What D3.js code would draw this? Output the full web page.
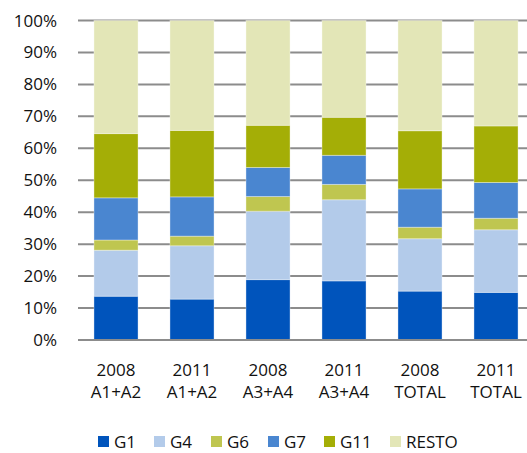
<!DOCTYPE html>
<html><head><meta charset="utf-8">
<script src="https://cdn.jsdelivr.net/npm/d3@7"></script>
<style>body{margin:0;background:#fff}svg{display:block}text{font-family:"Open Sans","Liberation Sans",sans-serif;fill:#111}</style>
</head><body>
<svg id="c" width="527" height="453"></svg>
<script>
const categories = [["2008","A1+A2"],["2011","A1+A2"],["2008","A3+A4"],["2011","A3+A4"],["2008","TOTAL"],["2011","TOTAL"]];
const seriesNames = ["G1","G4","G6","G7","G11","RESTO"];
const G1 = [13.7,12.8,18.9,18.5,15.3,14.9];
const G4 = [14.4,16.7,21.4,25.4,16.4,19.6];
const G6 = [3.2,3.0,4.6,4.8,3.6,3.6];
const G7 = [13.2,12.3,9.1,9.1,12.0,11.2];
const G11 = [20.1,20.8,13.2,11.9,18.2,17.7];
const RESTO = [35.4,34.4,32.8,30.3,34.5,33.0];
const colors = ["#0054bc","#b3cbea","#bfc650","#4a86d0","#a4ae06","#e3e6b7"];
const yTicks = [0,10,20,30,40,50,60,70,80,90,100];

const svg = d3.select("#c");
const mLeft = 78, mTop = 20.5, mBottom = 340;
const x = d3.scaleBand().domain(d3.range(categories.length)).range([mLeft, mLeft + 76*6]).paddingInner(0.42).paddingOuter(0.21);
const y = d3.scaleLinear().domain([0,100]).range([mBottom, mTop]);

// gridlines
svg.append("g").selectAll("line").data(yTicks.filter(d=>d>0)).join("line")
  .attr("x1", mLeft).attr("x2", 527).attr("y1", d=>y(d)).attr("y2", d=>y(d))
  .attr("stroke", "#8c8c8c").attr("stroke-width", 2);

const allSeries = [G1,G4,G6,G7,G11,RESTO];
const table = categories.map((c,i)=>{const o={i};seriesNames.forEach((s,k)=>o[s]=allSeries[k][i]);return o;});
const stack = d3.stack().keys(seriesNames)(table);

svg.append("g").selectAll("g").data(stack).join("g").attr("fill",(d,k)=>colors[k])
  .selectAll("rect").data(d=>d).join("rect")
  .attr("x", d=>x(d.data.i)).attr("width", x.bandwidth())
  .attr("y", d=>y(d[1])).attr("height", d=>y(d[0])-y(d[1]))
  .attr("stroke","rgba(255,255,255,0.35)").attr("stroke-width",1);

// axis baseline
svg.append("line").attr("x1",mLeft).attr("x2",527).attr("y1",mBottom).attr("y2",mBottom).attr("stroke","#8c8c8c").attr("stroke-width",2);

// y labels
svg.append("g").selectAll("text").data(yTicks).join("text")
  .attr("x",57).attr("y",d=>y(d)+6).attr("text-anchor","end").attr("font-size",17).text(d=>d+"%");

// x labels
const xl = svg.append("g").selectAll("text").data(categories).join("text")
  .attr("text-anchor","middle").attr("font-size",17);
xl.append("tspan").attr("y",376).attr("x",(d,i)=>x(i)+x.bandwidth()/2).text(d=>d[0]);
xl.append("tspan").attr("y",398).attr("x",(d,i)=>x(i)+x.bandwidth()/2).text(d=>d[1]);

// legend
const legX = [98,154,211,268,324,390];
const lg = svg.append("g").selectAll("g").data(seriesNames).join("g")
  .attr("transform",(d,i)=>`translate(${legX[i]},436)`);
lg.append("rect").attr("width",11).attr("height",11).attr("fill",(d,i)=>colors[i]);
lg.append("text").attr("x",16).attr("y",11.5).attr("font-size",17).text(d=>d);
</script>
</body></html>
